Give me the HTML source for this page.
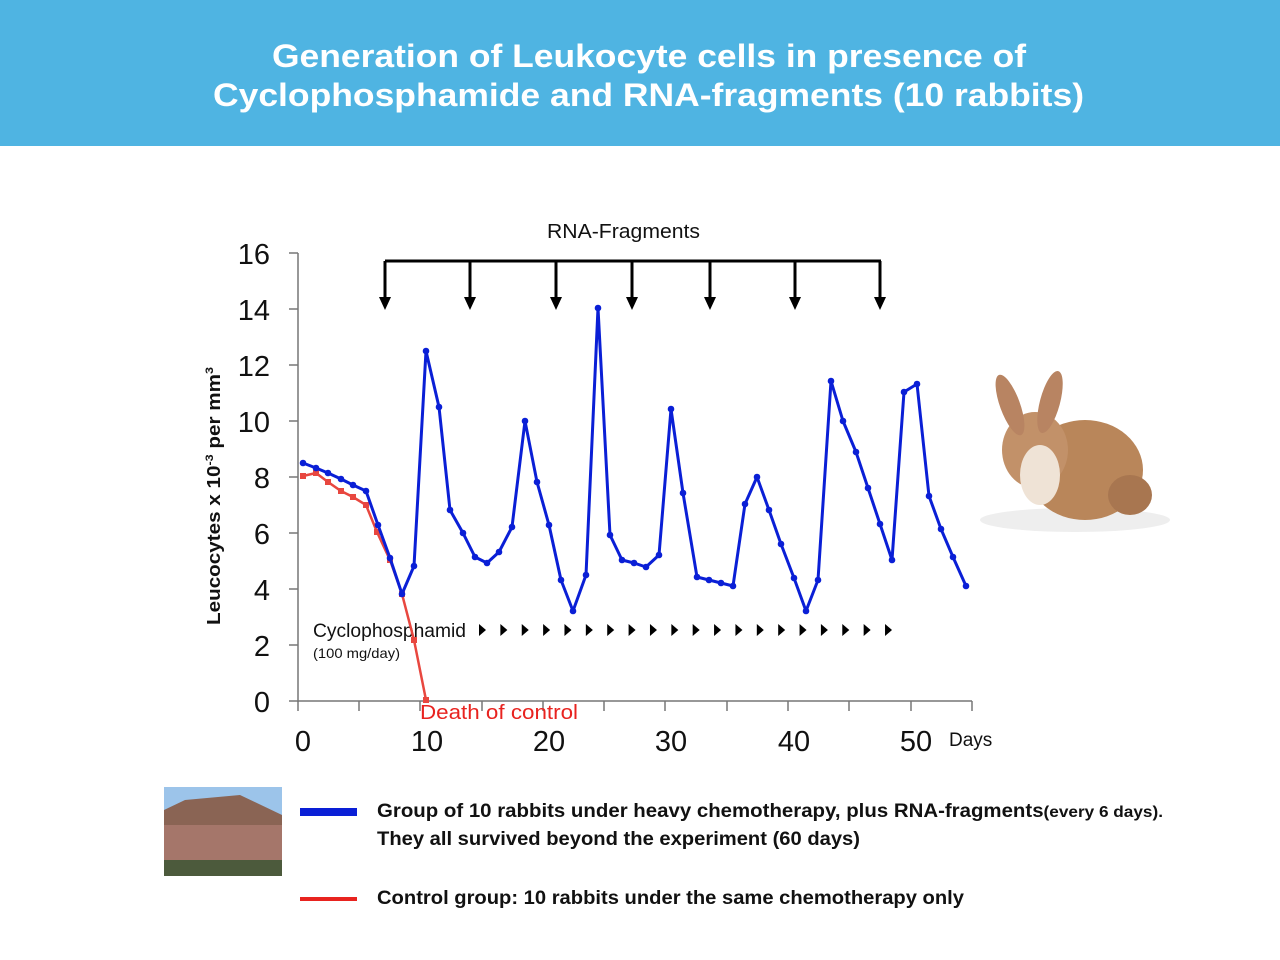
<!DOCTYPE html>
<html><head><meta charset="utf-8"><style>
body{margin:0;width:1280px;height:960px;background:#fff;overflow:hidden;font-family:"Liberation Sans",sans-serif}
</style></head><body>
<svg width="1280" height="960" xmlns="http://www.w3.org/2000/svg" style="position:absolute;left:0;top:0">
<defs>
<marker id="mb" markerWidth="8" markerHeight="8" refX="4" refY="4" markerUnits="userSpaceOnUse"><circle cx="4" cy="4" r="3.3" fill="#0a1fd6"/></marker>
<marker id="mr" markerWidth="8" markerHeight="8" refX="4" refY="4" markerUnits="userSpaceOnUse"><rect x="1" y="1" width="6" height="6" fill="#e8473f"/></marker>
</defs>
<rect x="0" y="0" width="1280" height="146" fill="#4fb4e2"/>
<text x="272" y="67" textLength="754" lengthAdjust="spacingAndGlyphs" font-size="32" font-weight="bold" fill="#fff">Generation of Leukocyte cells in presence of</text>
<text x="213" y="106" textLength="871" lengthAdjust="spacingAndGlyphs" font-size="32" font-weight="bold" fill="#fff">Cyclophosphamide and RNA-fragments (10 rabbits)</text>
<g stroke="#777" stroke-width="1.5" fill="none">
<line x1="298" y1="253" x2="298" y2="702"/>
<line x1="298" y1="701" x2="972" y2="701"/>
<line x1="289" y1="253" x2="298" y2="253"/><line x1="289" y1="309" x2="298" y2="309"/><line x1="289" y1="365" x2="298" y2="365"/><line x1="289" y1="421" x2="298" y2="421"/><line x1="289" y1="477" x2="298" y2="477"/><line x1="289" y1="533" x2="298" y2="533"/><line x1="289" y1="589" x2="298" y2="589"/><line x1="289" y1="645" x2="298" y2="645"/><line x1="289" y1="701" x2="298" y2="701"/>
<line x1="298" y1="701" x2="298" y2="711"/><line x1="359" y1="701" x2="359" y2="711"/><line x1="420" y1="701" x2="420" y2="711"/><line x1="482" y1="701" x2="482" y2="711"/><line x1="543" y1="701" x2="543" y2="711"/><line x1="604" y1="701" x2="604" y2="711"/><line x1="665" y1="701" x2="665" y2="711"/><line x1="727" y1="701" x2="727" y2="711"/><line x1="788" y1="701" x2="788" y2="711"/><line x1="849" y1="701" x2="849" y2="711"/><line x1="911" y1="701" x2="911" y2="711"/><line x1="972" y1="701" x2="972" y2="711"/>
</g>
<g font-size="29" fill="#111" text-anchor="end">
<text x="270" y="264">16</text><text x="270" y="320">14</text><text x="270" y="376">12</text><text x="270" y="432">10</text><text x="270" y="488">8</text><text x="270" y="544">6</text><text x="270" y="600">4</text><text x="270" y="656">2</text><text x="270" y="712">0</text>
</g>
<g font-size="29" fill="#111" text-anchor="middle">
<text x="303" y="751">0</text><text x="427" y="751">10</text><text x="549" y="751">20</text><text x="671" y="751">30</text><text x="794" y="751">40</text><text x="916" y="751">50</text>
</g>
<text x="949" y="746" font-size="19" fill="#111">Days</text>
<text transform="translate(220,625) rotate(-90)" textLength="258" lengthAdjust="spacingAndGlyphs" font-size="18" font-weight="bold" fill="#111">Leucocytes x 10<tspan dy="-7" font-size="11">-3</tspan><tspan dy="7"> per mm</tspan><tspan dy="-7" font-size="11">3</tspan></text>
<text x="547" y="238" textLength="153" lengthAdjust="spacingAndGlyphs" font-size="20" fill="#111">RNA-Fragments</text>
<g stroke="#000" stroke-width="3" fill="none">
<line x1="385" y1="261" x2="881" y2="261"/>
<line x1="385" y1="261" x2="385" y2="300"/><line x1="470" y1="261" x2="470" y2="300"/><line x1="556" y1="261" x2="556" y2="300"/><line x1="632" y1="261" x2="632" y2="300"/><line x1="710" y1="261" x2="710" y2="300"/><line x1="795" y1="261" x2="795" y2="300"/><line x1="880" y1="261" x2="880" y2="300"/>
</g>
<g fill="#000">
<polygon points="379,297 391,297 385,310"/><polygon points="464,297 476,297 470,310"/><polygon points="550,297 562,297 556,310"/><polygon points="626,297 638,297 632,310"/><polygon points="704,297 716,297 710,310"/><polygon points="789,297 801,297 795,310"/><polygon points="874,297 886,297 880,310"/>
</g>
<text x="313" y="637" textLength="153" lengthAdjust="spacingAndGlyphs" font-size="19" fill="#111">Cyclophosphamid</text>
<text x="313" y="658" textLength="87" lengthAdjust="spacingAndGlyphs" font-size="14" fill="#111">(100 mg/day)</text>
<g fill="#000" id="tri"></g>
<polyline fill="none" stroke="#e8473f" stroke-width="2.5" marker-start="url(#mr)" marker-mid="url(#mr)" marker-end="url(#mr)" points="303,476 316,473 328,482 341,491 353,497 366,505 377,532 390,560 402,594 414,640 426,700"/>
<polyline fill="none" stroke="#0a1fd6" stroke-width="3" stroke-linejoin="round" marker-start="url(#mb)" marker-mid="url(#mb)" marker-end="url(#mb)" points="303,463 316,468 328,473 341,479 353,485 366,491 378,525 390,558 402,594 414,566 426,351 439,407 450,510 463,533 475,557 487,563 499,552 512,527 525,421 537,482 549,525 561,580 573,611 586,575 598,308 610,535 622,560 634,563 646,567 659,555 671,409 683,493 697,577 709,580 721,583 733,586 745,504 757,477 769,510 781,544 794,578 806,611 818,580 831,381 843,421 856,452 868,488 880,524 892,560 904,392 917,384 929,496 941,529 953,557 966,586"/>
<text x="420" y="719" textLength="158" lengthAdjust="spacingAndGlyphs" font-size="20" fill="#e8231f">Death of control</text>
<g>
<ellipse cx="1075" cy="520" rx="95" ry="12" fill="#eee"/>
<ellipse cx="1085" cy="470" rx="58" ry="50" fill="#b9865a"/>
<ellipse cx="1035" cy="450" rx="33" ry="38" fill="#c29169"/>
<ellipse cx="1040" cy="475" rx="20" ry="30" fill="#efe3d6"/>
<ellipse cx="1010" cy="405" rx="10" ry="32" fill="#b88462" transform="rotate(-20 1010 405)"/>
<ellipse cx="1050" cy="402" rx="10" ry="32" fill="#b88462" transform="rotate(15 1050 402)"/>
<ellipse cx="1130" cy="495" rx="22" ry="20" fill="#a87650"/>
</g>
<rect x="164" y="787" width="118" height="89" fill="#9cc4ea"/>
<polygon points="164,876 164,810 185,800 240,795 282,815 282,876" fill="#8a6454"/>
<rect x="164" y="825" width="118" height="51" fill="#a5766a"/>
<rect x="164" y="860" width="118" height="16" fill="#4c5a3c"/>
<rect x="300" y="808" width="57" height="8" fill="#0a1fd6"/>
<rect x="300" y="897" width="57" height="4" fill="#e8231f"/>
<g font-size="19" font-weight="bold" fill="#111">
<text x="377" y="817" textLength="786" lengthAdjust="spacingAndGlyphs">Group of 10 rabbits under heavy chemotherapy, plus RNA-fragments<tspan font-size="16">(every 6 days).</tspan></text>
<text x="377" y="845" textLength="483" lengthAdjust="spacingAndGlyphs">They all survived beyond the experiment (60 days)</text>
<text x="377" y="904" textLength="587" lengthAdjust="spacingAndGlyphs">Control group: 10 rabbits under the same chemotherapy only</text>
</g>
</svg>
<script>
var g=document.getElementById('tri'),s='';
for(var i=0;i<20;i++){var x=482+i*21.37;s+='<polygon points="'+(x-3)+',624 '+(x-3)+',636 '+(x+4)+',630"/>';}
g.innerHTML=s;
</script>
</body></html>
